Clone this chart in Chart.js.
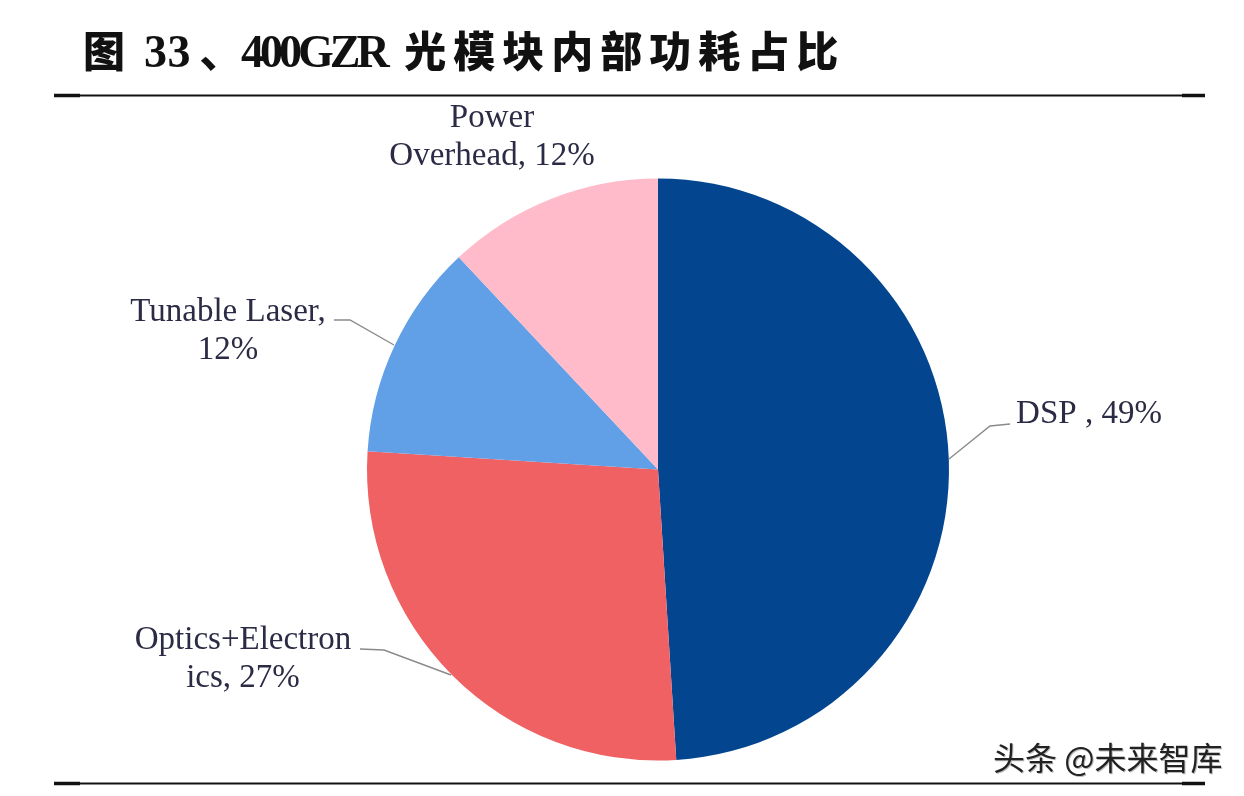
<!DOCTYPE html>
<html><head><meta charset="utf-8">
<style>
html,body{margin:0;padding:0;background:#fff;width:1244px;height:796px;overflow:hidden}
#c{position:absolute;left:0;top:0}
.t{position:absolute;white-space:pre;line-height:1}
#title{left:83px;top:14px;line-height:1;font:700 46px "Liberation Serif","Noto Sans CJK SC";color:#111;}
#title .h{font-family:"Noto Sans CJK SC";font-weight:900;font-size:42px;letter-spacing:7px}
#title .n{font-size:46px;letter-spacing:0.5px}
#title .s{font-size:46px;letter-spacing:-4px;margin-left:8px}
#title .m{font-size:46px;letter-spacing:-4px;margin-right:11px}
#mark{left:993px;top:733px;font:400 32px "Noto Sans CJK SC";color:#222;text-shadow:1px 1px 0 #bbb}
</style></head><body>
<canvas id="c" width="1244" height="796"></canvas>
<div class="t" id="title"><span class="h">图</span><span class="n"> 33</span><span class="s">、</span><span class="m">400GZR </span><span class="h">光模块内部功耗占比</span></div>
<div class="t" id="mark">头条 @未来智库</div>
<script src="https://cdn.jsdelivr.net/npm/chart.js@4"></script>
<script>
const categories=["DSP","Optics+Electronics","Tunable Laser","Power Overhead"];
const sliceShares=[49,27,12,12];
const sliceColors=["#03468F","#EF6162","#619FE6","#FFBBC9"];
const labelLines=[["DSP , 49%"],["Optics+Electron","ics, 27%"],["Tunable Laser,","12%"],["Power","Overhead, 12%"]];
const labelAnchors=[[1089,414],[243,640],[228,312],[492,118]];
const leaders=[[[1010,424],[990,426],[949,459]],[[360,649],[384,650],[451,675]],[[334,320],[350,320],[394,345]],[]];
const lineGap=38.5;

const annotate={id:"annotate",afterDraw(chart){
  const x=chart.ctx;x.save();
  x.strokeStyle="#8a8a8a";x.lineWidth=1.4;
  leaders.forEach(p=>{if(!p.length)return;x.beginPath();p.forEach((q,i)=>i?x.lineTo(q[0],q[1]):x.moveTo(q[0],q[1]));x.stroke();});
  x.fillStyle="#2b2b45";x.font='33px "Liberation Serif"';x.textAlign="center";x.textBaseline="middle";
  labelLines.forEach((ls,i)=>ls.forEach((s,j)=>x.fillText(s,labelAnchors[i][0],labelAnchors[i][1]+j*lineGap)));
  x.strokeStyle="#111";x.lineWidth=2;
  [95.5,783.5].forEach(y=>{x.beginPath();x.moveTo(54,y);x.lineTo(1205,y);x.stroke();});
  x.lineWidth=3.5;
  [95.5,783.5].forEach(y=>{x.beginPath();x.moveTo(54,y);x.lineTo(80,y);x.moveTo(1182,y);x.lineTo(1205,y);x.stroke();});
  x.restore();
}};
new Chart(document.getElementById("c"),{
  type:"pie",
  data:{labels:categories,datasets:[{data:sliceShares,backgroundColor:sliceColors,borderWidth:0}]},
  options:{responsive:false,animation:false,devicePixelRatio:1,
    layout:{padding:{left:367,right:295,top:178.5,bottom:35.5}},
    plugins:{legend:{display:false},tooltip:{enabled:false}}},
  plugins:[annotate]
});
</script></body></html>
